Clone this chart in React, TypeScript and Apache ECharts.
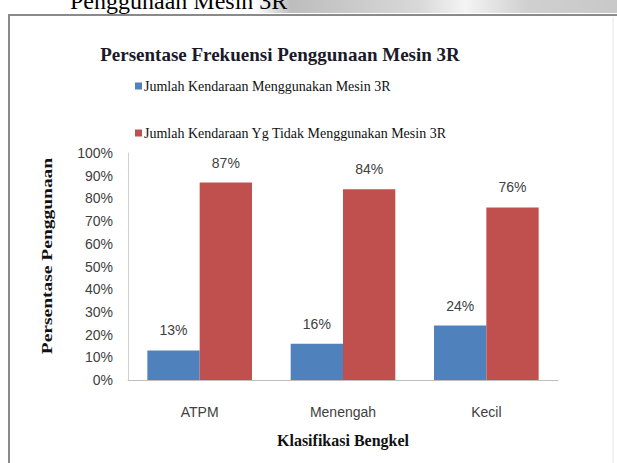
import React, { useEffect, useRef } from "react";
import * as echarts from "echarts";

const categories = ["ATPM", "Menengah", "Kecil"];
const seriesNames = [
  "Jumlah Kendaraan Menggunakan Mesin 3R",
  "Jumlah Kendaraan Yg Tidak Menggunakan Mesin 3R",
];
const usingValues = [13, 16, 24];
const notUsingValues = [87, 84, 76];
const yTicks = [0, 10, 20, 30, 40, 50, 60, 70, 80, 90, 100];

export default function App() {
  const ref = useRef<HTMLDivElement>(null);
  useEffect(() => {
    if (!ref.current) return;
    const chart = echarts.init(ref.current, null, { renderer: "svg" });
    const labelStyle = {
      show: true,
      position: "top",
      distance: 13,
      formatter: "{c}%",
      color: "#404040",
      fontFamily: "Liberation Sans",
      fontSize: 14,
    };
    chart.setOption({
      animation: false,
      backgroundColor: "#ffffff",
      title: {
        text: "Persentase Frekuensi Penggunaan Mesin 3R",
        left: 275,
        textAlign: "center",
        top: 40,
        textStyle: {
          fontFamily: "Liberation Serif",
          fontWeight: "bold",
          fontSize: 19,
          color: "#1a1a2a",
        },
      },
      legend: {
        orient: "vertical",
        left: 130,
        top: 74,
        itemWidth: 7,
        itemHeight: 7,
        itemGap: 33,
        icon: "rect",
        data: seriesNames,
        textStyle: {
          fontFamily: "Liberation Serif",
          fontSize: 14,
          color: "#111",
          padding: [0, 0, 0, -3],
        },
      },
      grid: { left: 128, right: 59, top: 153, bottom: 83, containLabel: false },
      xAxis: {
        type: "category",
        data: categories,
        axisLine: { show: true, lineStyle: { color: "#bfbfbf", width: 1 } },
        axisTick: { show: false },
        axisLabel: {
          margin: 25,
          color: "#404040",
          fontFamily: "Liberation Sans",
          fontSize: 14,
        },
        name: "Klasifikasi Bengkel",
        nameLocation: "middle",
        nameGap: 52,
        nameTextStyle: {
          fontFamily: "Liberation Serif",
          fontWeight: "bold",
          fontSize: 16,
          color: "#111",
        },
      },
      yAxis: {
        type: "value",
        min: yTicks[0],
        max: yTicks[yTicks.length - 1],
        interval: 10,
        splitLine: { show: false },
        axisLine: { show: true, lineStyle: { color: "#d0d0d0", width: 1 } },
        axisTick: { show: false },
        axisLabel: {
          formatter: "{value}%",
          margin: 15,
          color: "#404040",
          fontFamily: "Liberation Sans",
          fontSize: 14,
        },
      },
      series: [
        {
          name: seriesNames[0],
          type: "bar",
          data: usingValues,
          barGap: "0%",
          barCategoryGap: "27%",
          itemStyle: { color: "#4F81BD" },
          label: labelStyle,
        },
        {
          name: seriesNames[1],
          type: "bar",
          data: notUsingValues,
          barGap: "0%",
          barCategoryGap: "27%",
          itemStyle: { color: "#C0504D" },
          label: labelStyle,
        },
      ],
      graphic: [
        {
          type: "rect",
          shape: { x: 255, y: 0, width: 362, height: 13 },
          style: {
            fill: new echarts.graphic.LinearGradient(0, 0, 1, 0, [
              { offset: 0, color: "#ffffff" },
              { offset: 0.1, color: "#bdbdbd" },
              { offset: 0.45, color: "#d8d8d8" },
              { offset: 0.58, color: "#f4f4f4" },
              { offset: 0.75, color: "#d0d0d0" },
              { offset: 1, color: "#c8c8c8" },
            ]),
          },
          silent: true,
        },
        {
          type: "text",
          x: 70,
          y: 13,
          style: {
            text: "Penggunaan Mesin 3R",
            fontFamily: "Liberation Serif",
            fontSize: 24,
            fill: "#000",
            verticalAlign: "bottom",
          },
          silent: true,
        },
        {
          type: "rect",
          shape: { x: 9, y: 15, width: 700, height: 500 },
          style: { fill: "none", stroke: "#8a8a8a", lineWidth: 2 },
          silent: true,
        },
        {
          type: "line",
          shape: { x1: 613, y1: 17, x2: 613, y2: 463 },
          style: { stroke: "#e6e6e6", lineWidth: 1 },
          silent: true,
        },
        {
          type: "text",
          x: 47,
          y: 256,
          rotation: Math.PI / 2,
          scaleX: 1.3,
          style: {
            text: "Persentase Penggunaan",
            fontFamily: "Liberation Serif",
            fontWeight: "bold",
            fontSize: 15,
            fill: "#111",
            align: "center",
            verticalAlign: "middle",
          },
          silent: true,
        },
      ],
    });
    return () => chart.dispose();
  }, []);
  return (
    <div
      ref={ref}
      style={{ position: "fixed", left: 0, top: 0, width: 617, height: 463 }}
    />
  );
}
